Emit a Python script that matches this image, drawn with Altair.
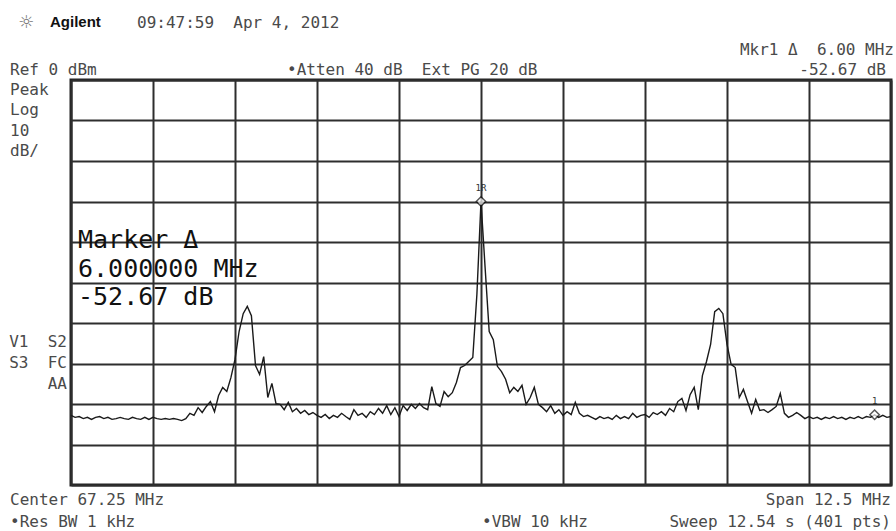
import altair as alt
import pandas as pd

# ---- Sweep definition (from the instrument settings) ----
center_mhz = 67.25
span_mhz = 12.5
start_mhz = center_mhz - span_mhz / 2
stop_mhz = center_mhz + span_mhz / 2

# ---- Trace amplitude in dBm (every 2nd of 401 sweep points) ----
trace_dbm = [
    -82.8, -83.3, -83.1, -83.6, -83.3, -83.8, -83.3, -83.1, -83.6, -83.3,
    -83.8, -83.6, -83.3, -83.6, -83.8, -83.3, -83.6, -83.8, -83.3, -83.8,
    -83.3, -83.6, -83.8, -83.6, -83.8, -83.6, -83.8, -84.1, -83.6, -82.3,
    -82.8, -80.9, -82.1, -80.6, -79.4, -81.9, -77.9, -75.9, -76.9, -73.5,
    -69.0, -62.1, -57.7, -55.9, -58.2, -70.5, -72.7, -68.3, -78.4, -74.9,
    -79.9, -80.1, -81.4, -79.6, -81.9, -81.1, -82.3, -81.6, -82.6, -82.1,
    -82.8, -83.3, -82.6, -83.6, -82.8, -83.3, -82.3, -83.1, -83.8, -81.4,
    -82.8, -82.3, -83.3, -81.9, -82.6, -81.1, -82.3, -80.4, -82.6, -80.9,
    -83.1, -80.4, -81.6, -80.1, -81.1, -79.9, -80.9, -81.4, -75.7, -79.9,
    -80.6, -76.9, -78.2, -77.2, -74.7, -71.0, -70.5, -69.5, -68.5, -52.9,
    -30.0, -46.3, -62.1, -64.1, -70.7, -72.0, -73.9, -77.2, -75.9, -76.9,
    -75.4, -80.1, -78.4, -75.9, -80.1, -80.9, -81.9, -80.4, -82.3, -81.4,
    -82.8, -81.9, -82.6, -79.6, -82.3, -83.1, -82.8, -83.3, -83.8, -83.1,
    -83.6, -83.3, -83.8, -82.8, -83.6, -83.1, -83.6, -82.3, -83.3, -82.8,
    -82.6, -83.3, -82.1, -82.6, -81.9, -82.8, -81.1, -81.9, -79.4, -78.6,
    -81.6, -77.7, -75.9, -81.4, -73.0, -69.5, -65.3, -57.2, -56.4, -57.7,
    -65.3, -70.2, -71.0, -78.4, -76.4, -79.4, -82.3, -78.9, -81.6, -81.4,
    -82.1, -81.4, -80.6, -77.4, -82.3, -83.3, -82.8, -82.1, -82.8, -83.6,
    -83.1, -83.6, -83.3, -83.8, -83.3, -83.6, -83.1, -83.6, -83.3, -83.8,
    -83.3, -83.6, -83.1, -83.6, -83.1, -83.3, -82.67, -83.3, -82.8, -83.3,
    -83.1,
]
n = len(trace_dbm)
freq_mhz = [start_mhz + i * span_mhz / (n - 1) for i in range(n)]

# ---- Markers ----
marker_freqs = [67.25, 73.25]
marker_levels = [-30.0, -82.67]
marker_labels = ["1R", "1"]

# ---- Graticule ----
x_grid = [start_mhz + k * span_mhz / 10 for k in range(11)]
y_grid = [-100 + 10 * k for k in range(11)]

trace = pd.DataFrame({"freq": freq_mhz, "dbm": trace_dbm})
markers = pd.DataFrame({"freq": marker_freqs, "dbm": marker_levels, "lab": marker_labels})

W, H = 820, 405
OX, OY = 71, 80  # plot origin on the page

xscale = alt.Scale(domain=[start_mhz, stop_mhz], nice=False, zero=False)
yscale = alt.Scale(domain=[-100, 0], nice=False, zero=False)

xaxis = alt.Axis(values=x_grid, grid=True, gridColor="#2e2e2e", gridWidth=2,
                 labels=False, ticks=False, domain=False, title=None)
yaxis = alt.Axis(values=y_grid, grid=True, gridColor="#2e2e2e", gridWidth=2,
                 labels=False, ticks=False, domain=False, title=None)

line = alt.Chart(trace).mark_line(color="#1a1a1a", strokeWidth=1.4, interpolate="linear").encode(
    x=alt.X("freq:Q", scale=xscale, axis=xaxis),
    y=alt.Y("dbm:Q", scale=yscale, axis=yaxis),
)

mk = alt.Chart(markers).mark_point(shape="diamond", filled=True, fill="white",
                                   stroke="#111111", strokeWidth=1.5, size=90).encode(
    x=alt.X("freq:Q", scale=xscale), y=alt.Y("dbm:Q", scale=yscale))
mk_lab = alt.Chart(markers).mark_text(fontSize=9, font="DejaVu Sans Mono", dy=-14,
                                      color="#333333").encode(
    x=alt.X("freq:Q", scale=xscale), y=alt.Y("dbm:Q", scale=yscale), text="lab:N")

MONO = "DejaVu Sans Mono"
GREY = "#4a4a4a"
SP = "\u00a0"


def label(txt, px, py, size=16, align="left", color=GREY, font=MONO, weight="normal"):
    return alt.Chart(pd.DataFrame({"t": [txt.replace("  ", SP + SP)]})).mark_text(
        align=align, baseline="alphabetic", fontSize=size, font=font,
        fontWeight=weight, color=color,
    ).encode(text="t:N", x=alt.value(px - OX), y=alt.value(py - OY))


texts = [
    label("☼", 18, 28, size=18, color="#777777", font="DejaVu Sans"),
    label("Agilent", 50, 27, size=15, color="#111111", font="Liberation Sans", weight="bold"),
    label("09:47:59  Apr 4, 2012", 137, 28),
    label("Ref 0 dBm", 10, 75),
    label("•Atten 40 dB  Ext PG 20 dB", 287, 75),
    label("Mkr1 Δ  6.00 MHz", 894, 55, align="right"),
    label("-52.67 dB", 886, 75, align="right"),
    label("Peak", 10, 95),
    label("Log", 10, 115),
    label("10", 10, 136),
    label("dB/", 10, 156),
    label("V1  S2", 67, 347, align="right"),
    label("S3  FC", 67, 368, align="right"),
    label("AA", 67, 389, align="right"),
    label("Marker Δ", 78, 248, size=25, color="#111111"),
    label("6.000000 MHz", 78, 277, size=25, color="#111111"),
    label("-52.67 dB", 78, 305, size=25, color="#111111"),
    label("Center 67.25 MHz", 10, 505),
    label("•Res BW 1 kHz", 10, 527),
    label("•VBW 10 kHz", 482, 527),
    label("Span 12.5 MHz", 891, 505, align="right"),
    label("Sweep 12.54 s (401 pts)", 891, 527, align="right"),
]

chart = alt.layer(line, mk, mk_lab, *texts).properties(
    width=W, height=H,
    autosize=alt.AutoSizeParams(type="none"),
    padding={"left": OX, "top": OY, "right": 896 - OX - W, "bottom": 531 - OY - H - 1},
    background="white",
).configure_view(stroke="#222222", strokeWidth=3)

chart.save("out.html", embed_options={"renderer": "svg", "actions": False})
